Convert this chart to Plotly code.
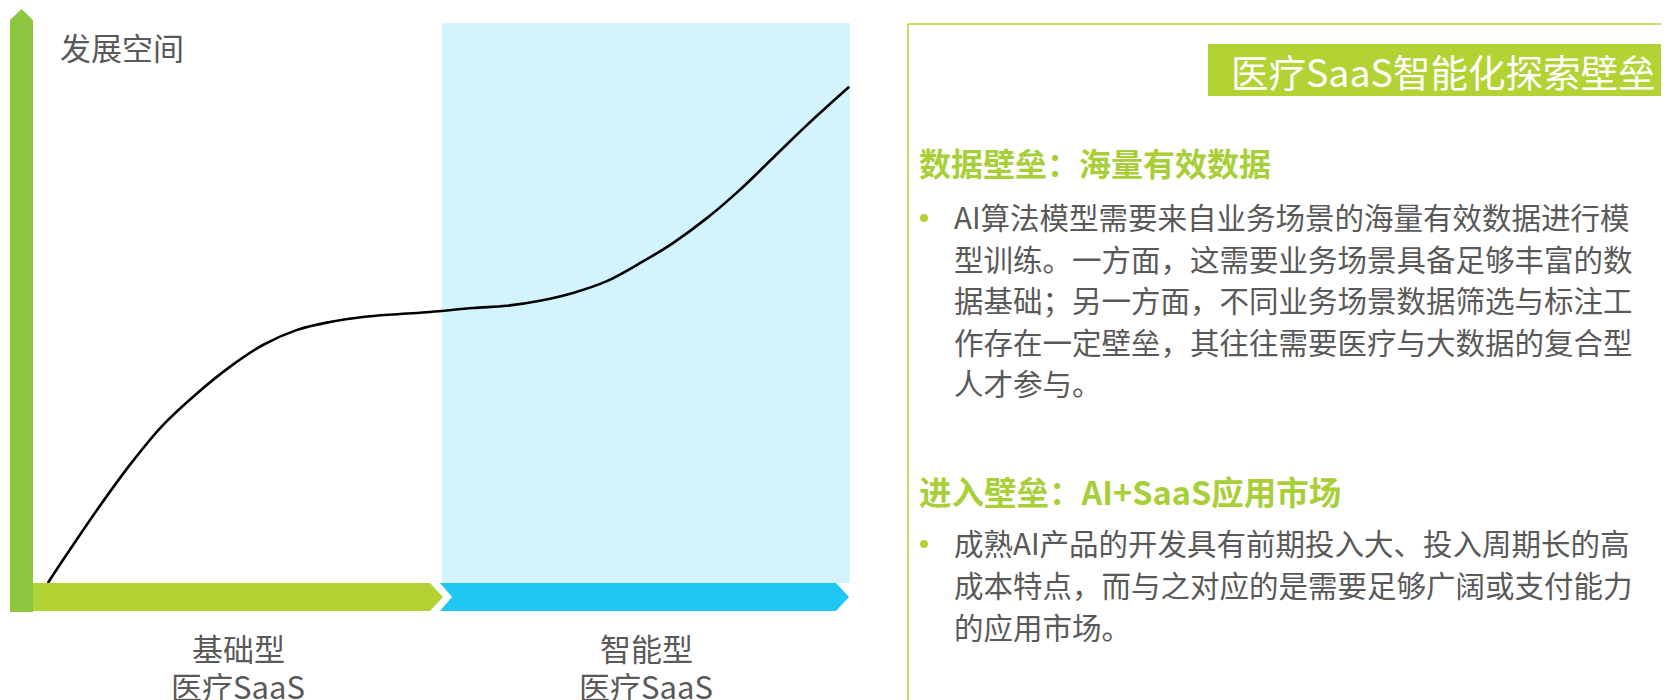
import plotly.graph_objects as go

# ---------------- data ----------------
stage_edges = [0, 1, 2]                      # 基础型: 0-1, 智能型: 1-2
stage_line1 = ["基础型", "智能型"]
stage_line2 = ["医疗SaaS", "医疗SaaS"]
y_axis_label = "发展空间"

curve_x = [0.034, 0.071, 0.154, 0.235, 0.316, 0.400, 0.480, 0.561, 0.645, 0.725,
           0.806, 0.890, 0.971, 1.076, 1.159, 1.240, 1.321, 1.404, 1.485, 1.566,
           1.650, 1.730, 1.811, 1.895, 1.998]
curve_y = [0.0, 4.1, 13.0, 21.1, 28.2, 33.9, 38.6, 42.5, 45.2, 46.6,
           47.5, 48.0, 48.4, 49.1, 49.5, 50.4, 51.8, 53.9, 57.1, 60.7,
           65.2, 70.2, 75.9, 81.8, 88.6]

page_title = "医疗SaaS发展模型与发展壁垒"
panel_title = "医疗SaaS智能化探索壁垒"
heading1 = "数据壁垒：海量有效数据"
para1 = ["AI算法模型需要来自业务场景的海量有效数据进行模",
         "型训练。一方面，这需要业务场景具备足够丰富的数",
         "据基础；另一方面，不同业务场景数据筛选与标注工",
         "作存在一定壁垒，其往往需要医疗与大数据的复合型",
         "人才参与。"]
heading2 = "进入壁垒：AI+SaaS应用市场"
para2 = ["成熟AI产品的开发具有前期投入大、投入周期长的高",
         "成本特点，而与之对应的是需要足够广阔或支付能力",
         "的应用市场。"]

# ---------------- layout helpers (page pixel -> axis units) ----------------
PAGE_W, PAGE_H = 1669, 700
BODY_MARGIN = 8                      # default page margin around the plot div
W, H = PAGE_W - BODY_MARGIN, PAGE_H - BODY_MARGIN
X0_PX, PX_PER_X = 34, 408.0
Y0_PX, PX_PER_Y = 583, 5.6


def X(px):
    return (px - X0_PX) / PX_PER_X


def Y(py):
    return (Y0_PX - py) / PX_PER_Y


FONT = "Noto Sans CJK SC"
GRAY = "#595959"
LIME = "#B3D334"
LIME_TXT = "#A8CF38"
GREEN = "#8DC63F"
CYAN = "#1FC8F2"
LIGHT_CYAN = "#D3F4FC"

fig = go.Figure()

shapes = []
# light cyan background for the intelligent stage
shapes.append(dict(type="rect", xref="x", yref="y", x0=stage_edges[1], x1=stage_edges[2],
                   y0=0, y1=100, fillcolor=LIGHT_CYAN, line=dict(width=0), layer="below"))

# vertical green arrow (y axis)
xa, xb, xm = X(10), X(33), X(21.5)
shapes.append(dict(type="path", xref="x", yref="y",
                   path=f"M {xa},{Y(612)} L {xa},{Y(20)} L {xm},{Y(9)} L {xb},{Y(20)} L {xb},{Y(612)} Z",
                   fillcolor=GREEN, line=dict(width=0)))

# stage chevron bars
yt, yb, ym = Y(583), Y(611), Y(597)
shapes.append(dict(type="path", xref="x", yref="y",
                   path=(f"M {X(33)},{yt} L {X(430)},{yt} L {X(443)},{ym} "
                         f"L {X(430)},{yb} L {X(33)},{yb} Z"),
                   fillcolor=LIME, line=dict(width=0)))
shapes.append(dict(type="path", xref="x", yref="y",
                   path=(f"M {X(440)},{yt} L {X(836)},{yt} L {X(849)},{ym} L {X(836)},{yb} "
                         f"L {X(440)},{yb} L {X(452)},{ym} Z"),
                   fillcolor=CYAN, line=dict(width=0)))

# right panel border
shapes.append(dict(type="line", xref="x", yref="y", x0=X(908), x1=X(908), y0=Y(24), y1=Y(720),
                   line=dict(color=LIME, width=1.5)))
shapes.append(dict(type="line", xref="x", yref="y", x0=X(908), x1=X(1700), y0=Y(24), y1=Y(24),
                   line=dict(color=LIME, width=1.5)))
# panel title box
shapes.append(dict(type="rect", xref="x", yref="y", x0=X(1208), x1=X(1700), y0=Y(96), y1=Y(44),
                   fillcolor=LIME, line=dict(width=0)))

# growth curve
fig.add_trace(go.Scatter(x=curve_x, y=curve_y, mode="lines",
                         line=dict(color="black", width=2.6, shape="spline", smoothing=1.0),
                         hoverinfo="skip", showlegend=False))

# bullets
fig.add_trace(go.Scatter(x=[X(924), X(924)], y=[Y(218), Y(544)], mode="markers",
                         marker=dict(color=LIME, size=8), hoverinfo="skip", showlegend=False))

ann = []


def txt(text, px, py, size, color=GRAY, xanchor="left", bold=False, yanchor="middle"):
    t = f"<b>{text}</b>" if bold else text
    ann.append(dict(text=t, x=X(px), y=Y(py), xref="x", yref="y", xanchor=xanchor, yanchor=yanchor,
                    showarrow=False, font=dict(family=FONT, size=size, color=color)))


txt(page_title, 893, 12, 38, color="#404040", xanchor="center", bold=True, yanchor="bottom")
txt(y_axis_label, 58, 46, 31)
centers = [(stage_edges[i] + stage_edges[i + 1]) / 2 for i in range(2)]
for c, l1, l2 in zip(centers, stage_line1, stage_line2):
    cpx = X0_PX + c * PX_PER_X
    txt(l1, cpx, 647, 31, xanchor="center")
    txt(l2, cpx, 685, 31, xanchor="center")

txt(panel_title, 1443, 70, 37.5, color="white", xanchor="center")
txt(heading1, 917, 162, 32, color=LIME_TXT, bold=True)
for i, line in enumerate(para1):
    txt(line, 952, 216 + i * 41.5, 29.5)
txt(heading2, 917, 490, 32.5, color=LIME_TXT, bold=True)
for i, line in enumerate(para2):
    txt(line, 952, 542 + i * 42, 29.5)

fig.update_layout(
    width=W, height=H, margin=dict(l=0, r=0, t=0, b=0),
    paper_bgcolor="white", plot_bgcolor="white",
    xaxis=dict(range=[X(BODY_MARGIN), X(PAGE_W)], visible=False, fixedrange=True),
    yaxis=dict(range=[Y(PAGE_H), Y(BODY_MARGIN)], visible=False, fixedrange=True),
    shapes=shapes, annotations=ann, showlegend=False,
)

fig.write_html("out.html", config={"displayModeBar": False})
